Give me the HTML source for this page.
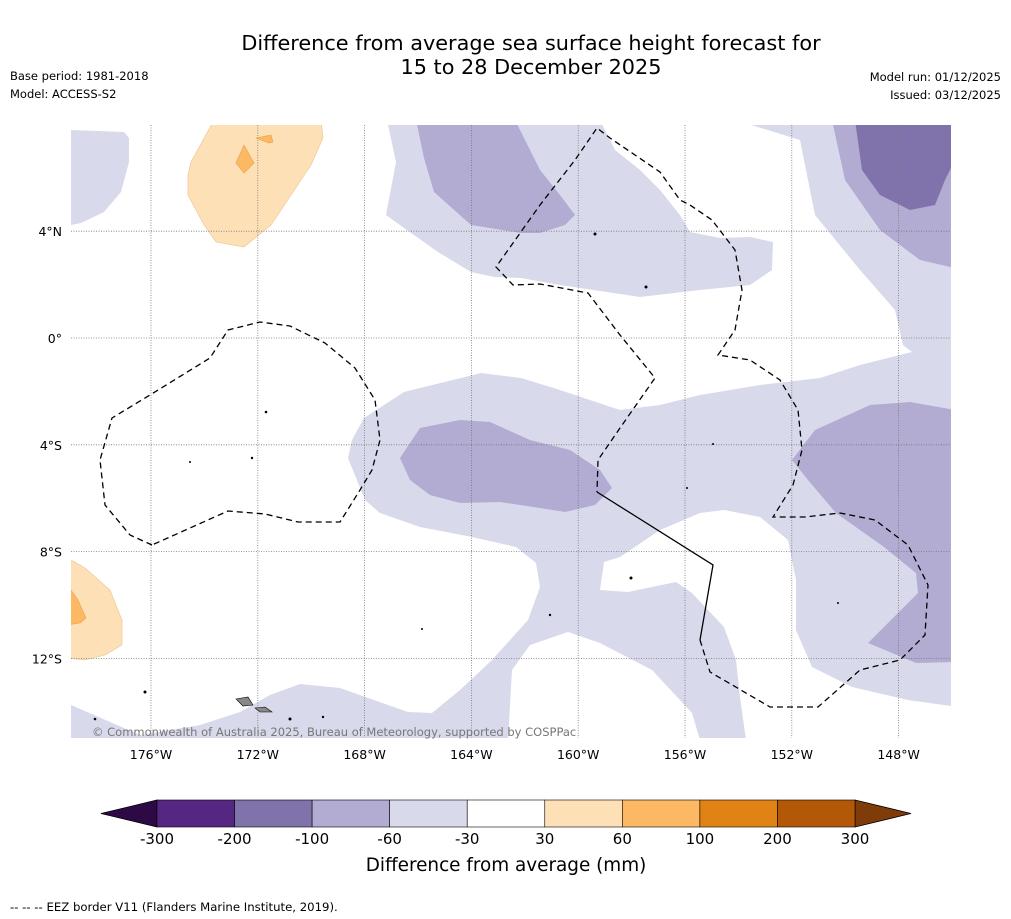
<!DOCTYPE html>
<html><head><meta charset="utf-8"><style>
html,body{margin:0;padding:0;background:#fff;width:1011px;height:919px;overflow:hidden;font-family:"DejaVu Sans","Liberation Sans",sans-serif}
svg{display:block}
</style></head><body>
<svg id="chart" width="1011" height="919" viewBox="0 0 1011 919" xmlns="http://www.w3.org/2000/svg" font-family="DejaVu Sans, Liberation Sans, sans-serif">
<text x="531" y="50" font-size="20.8" text-anchor="middle" fill="#000">Difference from average sea surface height forecast for</text>
<text x="531" y="74" font-size="20.8" text-anchor="middle" fill="#000">15 to 28 December 2025</text>
<text x="10" y="80" font-size="11.5">Base period: 1981-2018</text>
<text x="10" y="98" font-size="11.5">Model: ACCESS-S2</text>
<text x="1001" y="81" font-size="11.5" text-anchor="end">Model run: 01/12/2025</text>
<text x="1001" y="99" font-size="11.5" text-anchor="end">Issued: 03/12/2025</text>

<defs><clipPath id="mapclip"><rect x="71" y="125" width="880" height="613"/></clipPath></defs>
<g clip-path="url(#mapclip)">
<rect x="71" y="125" width="880" height="613" fill="#d8daeb"/>
<path fill="#fff" d="M71,225 L81,223 L104,212 L121,192 L129,162 L129,138 L124,132 L71,130 L71,120 L388,120 L388,125 L396,162 L386,215 L404,228 L438,252 L471,272 L494,277 L521,278 L560,285 L640,297 L700,290 L750,285 L772,270 L773,242 L750,237 L720,238 L690,232 L680,215 L660,190 L640,170 L615,150 L600,120 L735,120 L800,140 L815,215 L860,270 L895,310 L903,345 L912,352 L860,365 L820,378 L760,385 L700,395 L660,405 L620,410 L560,390 L521,378 L481,373 L404,392 L364,418 L352,440 L348,458 L365,500 L380,513 L420,527 L472,537 L516,547 L536,563 L540,587 L528,620 L492,660 L460,690 L432,713 L408,712 L340,688 L300,684 L270,695 L240,712 L200,725 L140,735 L71,705 Z"/>
<path fill="#fff" d="M508,740 L512,670 L530,645 L568,632 L600,643 L652,670 L692,713 L700,740 Z"/>
<path fill="#fff" d="M600,590 L604,562 L620,557 L660,530 L700,513 L724,510 L760,517 L788,540 L796,580 L796,630 L812,667 L852,687 L908,700 L951,706 L955,740 L746,740 L740,697 L736,660 L724,627 L692,593 L676,582 L628,592 Z"/>
<path fill="#b2abd2" d="M416,120 L424,158 L434,192 L471,225 L521,233 L540,233 L565,225 L575,215 L560,195 L540,170 L515,120 Z"/>
<path fill="#b2abd2" d="M400,458 L420,428 L460,420 L490,422 L530,440 L570,450 L600,470 L612,488 L595,505 L565,512 L540,508 L500,502 L460,503 L430,495 L410,480 Z"/>
<path fill="#b2abd2" d="M792,460 L815,430 L870,405 L910,402 L955,410 L955,662 L916,663 L868,643 L918,593 L916,573 L884,547 L836,513 L808,480 Z"/>
<path fill="#b2abd2" d="M832,120 L845,180 L880,230 L920,260 L955,268 L955,120 Z"/>
<path fill="#8073ac" d="M855,120 L862,170 L880,195 L910,210 L935,205 L945,180 L955,160 L955,120 Z"/>
<path fill="#fee0b6" stroke="#e8c48e" stroke-width="0.6" d="M214,120 L321,120 L323,138 L311,165 L271,225 L244,247 L216,242 L204,225 L188,195 L188,175 L191,162 Z"/>
<path fill="#fdb863" stroke="#e8a04a" stroke-width="0.6" d="M244,145 L254,163 L244,173 L236,163 Z"/>
<path fill="#fdb863" stroke="#e8a04a" stroke-width="0.6" d="M256,138 L271,135 L273,142 L269,143 Z"/>
<path fill="#fee0b6" stroke="#e8c48e" stroke-width="0.6" d="M66,560 L71,560 L85,568 L110,590 L122,620 L122,645 L105,655 L85,660 L66,658 Z"/>
<path fill="#fdb863" stroke="#e8a04a" stroke-width="0.6" d="M66,590 L71,590 L78,600 L86,618 L80,623 L66,625 Z"/>
<g id="grid"></g>
<polyline fill="none" stroke="#000" stroke-width="1.3" stroke-dasharray="6,4" points="152,545 130,535 105,505 100,460 112,418 150,395 210,358 228,330 260,322 290,326 325,343 355,368 375,400 380,440 372,470 360,490 340,522 298,522 265,514 228,511 190,528 152,545"/>
<polyline fill="none" stroke="#000" stroke-width="1.3" stroke-dasharray="6,4" points="700,640 710,672 770,707 818,707 860,670 900,660 925,635 928,585 908,545 875,520 840,513 805,517 773,517 793,485 802,450 798,410 780,380 750,360 718,355 735,330 742,290 735,250 712,220 690,205 680,200 660,172 635,155 610,138 597,128 575,160 540,205 496,267 513,285 540,284 588,293 620,335 655,378 620,428 598,460 597,492"/>
<polyline fill="none" stroke="#000" stroke-width="1.3" points="597,492 713,565 700,640"/>
<g fill="#000">
<circle cx="266" cy="412" r="1.3"/><circle cx="252" cy="458" r="1.2"/><circle cx="190" cy="462" r="1"/><circle cx="595" cy="234" r="1.5"/><circle cx="646" cy="287" r="1.5"/><circle cx="713" cy="444" r="1"/><circle cx="687" cy="488" r="1"/><circle cx="631" cy="578" r="1.5"/><circle cx="550" cy="615" r="1.2"/><circle cx="422" cy="629" r="1"/><circle cx="145" cy="692" r="1.5"/><circle cx="290" cy="719" r="1.5"/><circle cx="323" cy="717" r="1.2"/><circle cx="838" cy="603" r="1"/><circle cx="95" cy="719" r="1.3"/>
<path d="M236,699 L248,697 L253,705 L243,706 Z" fill="#888" stroke="#000" stroke-width="0.6"/>
<path d="M255,708 L265,707 L272,712 L260,712 Z" fill="#888" stroke="#000" stroke-width="0.6"/>
</g>
</g>
<text x="92" y="736" font-size="11.5" fill="#777">© Commonwealth of Australia 2025, Bureau of Meteorology, supported by COSPPac</text>
<g id="axes"></g>
<g id="colorbar"></g>
<text x="506" y="871" font-size="18.4" text-anchor="middle">Difference from average (mm)</text>
<text x="10" y="911" font-size="11.7">--  --  -- EEZ border V11 (Flanders Marine Institute, 2019).</text>
</svg>
<script>
const lonTicks = [176, 172, 168, 164, 160, 156, 152, 148];
const lonTickLabels = ["176°W","172°W","168°W","164°W","160°W","156°W","152°W","148°W"];
const latTicks = [4, 0, -4, -8, -12];
const latTickLabels = ["4°N","0°","4°S","8°S","12°S"];
const cbLevels = [-300, -200, -100, -60, -30, 30, 60, 100, 200, 300];
const cbLevelLabels = ["-300","-200","-100","-60","-30","30","60","100","200","300"];
const cbColors = ["#562683","#8073ac","#b2abd2","#d8daeb","#ffffff","#fee0b6","#fdb863","#e08214","#b35806"];
const cbUnder = "#2d0a45";
const cbOver = "#7f3b08";

const NS = "http://www.w3.org/2000/svg";
const mapL = 71, mapR = 951, mapT = 125, mapB = 738;
function xLon(w){ return 151 + (176 - w) * 26.7; }
function yLat(l){ return 338 - l * 26.7; }
function mk(tag, attrs, parent){ const e = document.createElementNS(NS, tag); for (const k in attrs) e.setAttribute(k, attrs[k]); parent.appendChild(e); return e; }

const grid = document.getElementById('grid');
const axes = document.getElementById('axes');
lonTicks.forEach((w, i) => {
  const x = xLon(w);
  const g = mk('line', {x1:x, x2:x, y1:mapT, y2:mapB, stroke:'#777', 'stroke-width':0.8, 'stroke-dasharray':'1,1.5'}, grid);
  
  
  const t = mk('text', {x:x, y:759, 'font-size':12.5, 'text-anchor':'middle'}, axes);
  
  
  t.textContent = lonTickLabels[i];
});
latTicks.forEach((l, i) => {
  const y = yLat(l);
  const g = mk('line', {x1:mapL, x2:mapR, y1:y, y2:y, stroke:'#777', 'stroke-width':0.8, 'stroke-dasharray':'1,1.5'}, grid);
  
  
  const t = mk('text', {x:62, y:y + 5, 'font-size':12.5, 'text-anchor':'end'}, axes);
  
  
  t.textContent = latTickLabels[i];
});

const cb = document.getElementById('colorbar');
const cbL = 157, cbR = 855, cbT = 800, cbB = 827, triW = 56;
const segW = (cbR - cbL) / cbColors.length;
function xCb(i){ return cbL + i * segW; }
const under = mk('polygon', {points:`${cbL},${cbT} ${cbL-triW},${(cbT+cbB)/2} ${cbL},${cbB}`, fill:cbUnder, stroke:'#000', 'stroke-width':0.8}, cb);


const over = mk('polygon', {points:`${cbR},${cbT} ${cbR+triW},${(cbT+cbB)/2} ${cbR},${cbB}`, fill:cbOver, stroke:'#000', 'stroke-width':0.8}, cb);


cbColors.forEach((c, i) => {
  const r = mk('rect', {x:xCb(i), y:cbT, width:segW, height:cbB - cbT, fill:c, stroke:'#000', 'stroke-width':0.6}, cb);
  
  
});
cbLevels.forEach((v, i) => {
  const t = mk('text', {x:xCb(i), y:844, 'font-size':15, 'text-anchor':'middle'}, cb);
  
  
  t.textContent = cbLevelLabels[i];
});
</script>
</body></html>
